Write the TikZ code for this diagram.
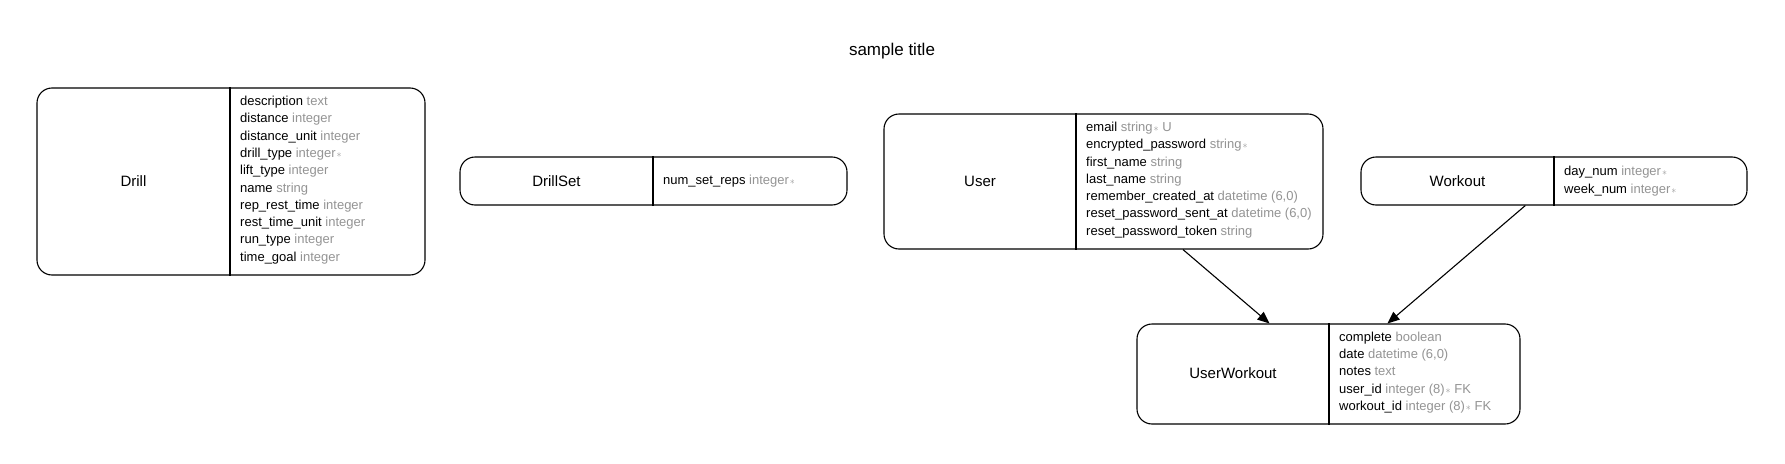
\documentclass[tikz,border=0pt]{standalone}
\usepackage{fontspec}
\setmainfont{Liberation Sans}
\usetikzlibrary{arrows.meta}
\colorlet{typegray}{black!42}
\newcommand{\attr}[2]{#1 \textcolor{typegray}{#2}}
\newcommand{\reqd}{\hspace{1pt}{\fontsize{10}{10}\selectfont$\ast$}}
\tikzset{
  entity/.style={draw, rounded corners=15pt, line width=1.1pt, inner sep=0pt},
  entname/.style={font=\fontsize{15}{18}\selectfont},
  attrlist/.style={anchor=west, align=left, inner sep=0pt, font=\fontsize{13}{17.3}\selectfont},
  divider/.style={line width=1.1pt},
  relation/.style={->, line width=1.1pt}
}
\begin{document}
\begin{tikzpicture}[x=1pt,y=-1pt,>={Triangle[length=12pt,width=10pt]}]
  \useasboundingbox[fill=white] (0,0) rectangle (1785,463);
  \node[font=\fontsize{17}{20}\selectfont] (title) at (892,51) {sample title};
  % Drill
  \node[entity, minimum width=388pt, minimum height=187pt] (drill) at (231,181.5) {};
  \draw[divider] (drill.north -| 230,0) -- (drill.south -| 230,0);
  \node[entname] (drillname) at (133.5,181.5) {Drill};
  \node[attrlist] (drillattrs) at (240,180) {\attr{description}{text}\\ \attr{distance}{integer}\\
    \attr{distance\_unit}{integer}\\ \attr{drill\_type}{integer\reqd}\\ \attr{lift\_type}{integer}\\
    \attr{name}{string}\\ \attr{rep\_rest\_time}{integer}\\ \attr{rest\_time\_unit}{integer}\\
    \attr{run\_type}{integer}\\ \attr{time\_goal}{integer}};
  % DrillSet
  \node[entity, minimum width=387pt, minimum height=48pt] (drillset) at (653.5,181) {};
  \draw[divider] (drillset.north -| 653,0) -- (drillset.south -| 653,0);
  \node[entname] (drillsetname) at (556.5,181) {DrillSet};
  \node[attrlist] (drillsetattrs) at (663,181) {\attr{num\_set\_reps}{integer\reqd}};
  % User
  \node[entity, minimum width=439pt, minimum height=135pt] (user) at (1103.5,181.5) {};
  \draw[divider] (user.north -| 1076,0) -- (user.south -| 1076,0);
  \node[entname] (username) at (980,181.5) {User};
  \node[attrlist] (userattrs) at (1086,180) {\attr{email}{string\reqd\ U}\\
    \attr{encrypted\_password}{string\reqd}\\ \attr{first\_name}{string}\\ \attr{last\_name}{string}\\
    \attr{remember\_created\_at}{datetime (6,0)}\\ \attr{reset\_password\_sent\_at}{datetime (6,0)}\\
    \attr{reset\_password\_token}{string}};
  % Workout
  \node[entity, minimum width=386pt, minimum height=48pt] (workout) at (1554,181) {};
  \draw[divider] (workout.north -| 1554,0) -- (workout.south -| 1554,0);
  \node[entname] (workoutname) at (1457.5,181) {Workout};
  \node[attrlist] (workoutattrs) at (1564,181) {\attr{day\_num}{integer\reqd}\\
    \attr{week\_num}{integer\reqd}};
  % UserWorkout
  \node[entity, minimum width=383pt, minimum height=100pt] (userworkout) at (1328.5,374) {};
  \draw[divider] (userworkout.north -| 1329,0) -- (userworkout.south -| 1329,0);
  \node[entname] (userworkoutname) at (1233,373.5) {UserWorkout};
  \node[attrlist] (userworkoutattrs) at (1339,372.5) {\attr{complete}{boolean}\\
    \attr{date}{datetime (6,0)}\\ \attr{notes}{text}\\ \attr{user\_id}{integer (8)\reqd\ FK}\\
    \attr{workout\_id}{integer (8)\reqd\ FK}};
  % relations
  \draw[relation] (user) -- (userworkout);
  \draw[relation] (workout) -- (userworkout);
\end{tikzpicture}
\end{document}
